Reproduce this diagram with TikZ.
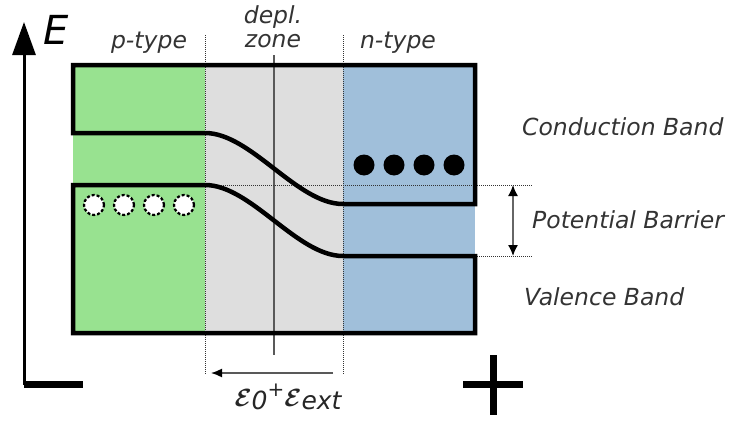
\documentclass[tikz,border=0pt]{standalone}
\usepackage{fontspec}
\setmainfont{DejaVu Sans}
\usetikzlibrary{arrows.meta}
\definecolor{pgreen}{HTML}{98E290}
\definecolor{zgray}{HTML}{DEDEDE}
\definecolor{nblue}{HTML}{A0BFDA}
\tikzset{
  band/.style={line width=4.5pt, line join=miter},
  dotline/.style={densely dotted, line width=1pt, black!80},
  lbl/.style={font=\fontsize{23.5}{25}\selectfont\itshape, text=black!80, inner sep=0pt},
  hole/.style={circle, draw=black, dash pattern=on 3pt off 2pt, line width=2.2pt, fill=white, minimum size=20pt, inner sep=0pt},
  elec/.style={circle, fill=black, minimum size=21pt, inner sep=0pt},
}
\newcommand{\bigE}{{\fontsize{46}{48}\selectfont\boldmath$\mathcal{E}$}}
\begin{document}
\begin{tikzpicture}[x=1pt,y=-1pt]
\useasboundingbox (0,0) rectangle (733,423);
% fills
\fill[pgreen] (73,65) rectangle (205,333);
\fill[zgray] (205,65) rectangle (343,333);
\fill[nblue] (343,65) rectangle (475,333);
% middle solid line
\draw[line width=1.5pt, black!65] (274,55) -- (274,355);
% dashed separators
\draw[dotline] (205,35) -- (205,375);
\draw[dotline] (343,35) -- (343,375);
% horizontal dotted levels
\draw[dotline] (205,185) -- (533,185);
\draw[dotline] (475,256) -- (533,256);
% conduction band
\draw[band] (73,65) -- (475,65) -- (475,204) -- (343,204)
  .. controls (297,204) and (251,133) .. (205,133) -- (73,133) -- cycle;
% valence band
\draw[band] (73,185) -- (205,185)
  .. controls (251,185) and (297,256) .. (343,256) -- (475,256) -- (475,333) -- (73,333) -- cycle;
% holes
\foreach \i/\x in {1/94,2/124,3/154,4/184} \node[hole] (h\i) at (\x,205) {};
% electrons
\foreach \i/\x in {1/364,2/394,3/424,4/454} \node[elec] (e\i) at (\x,165) {};
% barrier arrow
\coordinate (bt) at (513,185);
\coordinate (bb) at (513,256);
\draw[line width=1.5pt, black!60, {Latex[black,length=11pt,width=10pt]}-{Latex[black,length=11pt,width=10pt]}] (bt) -- (bb);
% energy axis
\coordinate (ax0) at (24,385);
\coordinate (ax1) at (24,22);
\draw[line width=3pt, -{Triangle[length=33pt,width=23pt]}] (ax0) -- (ax1);
\node[font=\fontsize{40}{42}\selectfont\itshape, inner sep=0pt] (E) at (56,30) {E};
% minus and plus
\fill (24,381) rectangle (83,388);
\fill (463,381) rectangle (523,388);
\fill (489.5,355) rectangle (496.5,415);
% field arrow
\coordinate (fa) at (333,373);
\coordinate (fb) at (211,373);
\draw[line width=1.5pt, black!65, -{Latex[black,length=11pt,width=9pt]}] (fa) -- (fb);
\node[inner sep=0pt, text=black!85] (field) at (288,397) {\bigE\raisebox{-3pt}{\fontsize{25}{27}\selectfont\itshape 0}\raisebox{10pt}{\fontsize{20}{22}\selectfont +}\bigE\raisebox{-3pt}{\fontsize{25}{27}\selectfont\itshape ext}};
% labels
\node[lbl] (ptype) at (149,43) {p-type};
\node[lbl] (depl) at (273,17) {depl.};
\node[lbl] (zone) at (273,41) {zone};
\node[lbl] (ntype) at (398,43) {n-type};
\node[lbl, anchor=west] (cb) at (522,127) {Conduction Band};
\node[lbl, anchor=west] (pb) at (532,220) {Potential Barrier};
\node[lbl, anchor=west] (vb) at (524,297) {Valence Band};
\end{tikzpicture}
\end{document}
